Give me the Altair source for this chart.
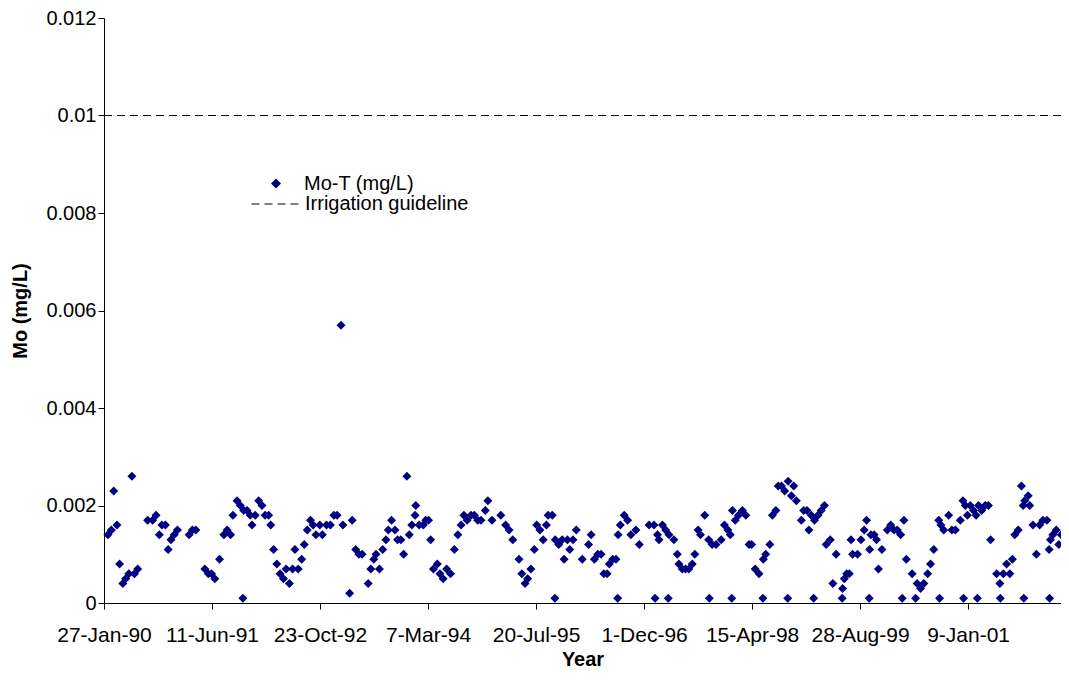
import altair as alt
import pandas as pd

# Sample dates as Excel serial day numbers (origin 1899-12-30)
sample_day = [
    32918, 32934, 32945, 32960, 32972, 32987, 33000, 33015, 33029, 33041, 33056,
    33102, 33125, 33141, 33156, 33168, 33184, 33197, 33210, 33225, 33240, 33294,
    33309, 33325, 33367, 33383, 33398, 33413, 33435, 33455, 33470, 33486, 33497,
    33516, 33531, 33543, 33547, 33562, 33577, 33585, 33600, 33616, 33631, 33646,
    33662, 33672, 33685, 33700, 33715, 33731, 33743, 33758, 33773, 33784, 33799,
    33815, 33827, 33841, 33856, 33868, 33881, 33899, 33911, 33930, 33948, 33964,
    33979, 33997, 34006, 34037, 34049, 34065, 34080, 34095, 34123, 34135,
    34149, 34159, 34175, 34190, 34205, 34216, 34231, 34247, 34259, 34274, 34287,
    34302, 34313, 34325, 34340, 34343, 34359, 34378, 34389, 34402, 34412, 34425,
    34443, 34455, 34470, 34486, 34504, 34522, 34538, 34553, 34566, 34581, 34599,
    34614, 34630, 34645, 34665, 34677, 34696, 34737, 34759,
    34775, 34792, 34821, 34834, 34849, 34861, 34876, 34892, 34903, 34918, 34933,
    34948, 34956, 34975, 34987, 34989, 35005, 35021, 35030, 35045, 35056, 35071,
    35086, 35114, 35143, 35155, 35170, 35186, 35201, 35214, 35229, 35239, 35255,
    35270, 35278, 35280, 35290, 35308, 35324, 35339, 35362, 35378,
    35423, 35446, 35451, 35462, 35469, 35485, 35500, 35512, 35515, 35538, 35554,
    35561, 35577, 35592, 35607, 35623, 35635, 35650, 35661, 35681, 35699, 35702,
    35715, 35733, 35757, 35772, 35788, 35799, 35806, 35809, 35822, 35837, 35855,
    35871, 35886, 35898, 35914, 35932, 35950, 35952, 35963, 35982,
    35994, 36010, 36021, 36036, 36051, 36065, 36067, 36082, 36093, 36105, 36128,
    36139, 36154, 36163, 36174, 36185, 36189, 36205, 36220, 36235, 36243, 36262,
    36274, 36289, 36317, 36319, 36327, 36338, 36350, 36358, 36365, 36388, 36404,
    36419, 36430, 36442, 36444, 36450, 36465, 36476, 36485, 36501, 36526, 36542,
    36557, 36572, 36588, 36595, 36603, 36614,
    36641, 36657, 36664, 36680, 36695, 36713, 36726, 36741, 36764, 36768, 36774,
    36787, 36810, 36825, 36841, 36864, 36876, 36879, 36887, 36897, 36910, 36925,
    36937, 36943, 36948, 36963, 36979, 36994, 37004, 37032, 37047, 37049, 37063,
    37078, 37093, 37105, 37116, 37132, 37147, 37155, 37158, 37162, 37178, 37185,
    37200, 37216, 37231, 37246, 37265, 37275, 37277, 37281, 37292, 37308, 37320,
    37331,
]

mo_t = [
    0.0014, 0.0015, 0.0023, 0.0016, 0.0008, 0.0004, 0.0005, 0.0006, 0.0026, 0.0006, 0.0007,
    0.0017, 0.0017, 0.0018, 0.0014, 0.0016, 0.0016, 0.0011, 0.0013, 0.0014, 0.0015, 0.0014,
    0.0015, 0.0015, 0.0007, 0.0006, 0.0006, 0.0005, 0.0009, 0.0014, 0.0015, 0.0014, 0.0018,
    0.0021, 0.0020, 0.0001, 0.0019, 0.0019, 0.0018, 0.0016, 0.0018, 0.0021, 0.0020, 0.0018,
    0.0018, 0.0016, 0.0011, 0.0008, 0.0006, 0.0005, 0.0007, 0.0004, 0.0007, 0.0011, 0.0007,
    0.0009, 0.0012, 0.0015, 0.0017, 0.0016, 0.0014, 0.0016, 0.0014, 0.0016, 0.0016, 0.0018,
    0.0018, 0.0057, 0.0016, 0.0002, 0.0017, 0.0011, 0.0010, 0.0010, 0.0004, 0.0007,
    0.0009, 0.0010, 0.0007, 0.0011, 0.0013, 0.0015, 0.0017, 0.0015, 0.0013, 0.0013, 0.0010,
    0.0026, 0.0014, 0.0016, 0.0018, 0.0020, 0.0016, 0.0016, 0.0017, 0.0017, 0.0013, 0.0007,
    0.0008, 0.0006, 0.0005, 0.0007, 0.0006, 0.0011, 0.0014, 0.0016, 0.0018, 0.0017, 0.0018,
    0.0018, 0.0017, 0.0017, 0.0019, 0.0021, 0.0017, 0.0018, 0.0016,
    0.0015, 0.0013, 0.0009, 0.0006, 0.0004, 0.0005, 0.0007, 0.0011, 0.0016, 0.0015, 0.0013,
    0.0016, 0.0018, 0.0018, 0.0001, 0.0013, 0.0012, 0.0013, 0.0009, 0.0013, 0.0011, 0.0013,
    0.0015, 0.0009, 0.0012, 0.0014, 0.0009, 0.0010, 0.0010, 0.0006, 0.0006, 0.0008, 0.0009,
    0.0009, 0.0001, 0.0014, 0.0016, 0.0018, 0.0017, 0.0014, 0.0015, 0.0012,
    0.0016, 0.0016, 0.0001, 0.0014, 0.0013, 0.0016, 0.0015, 0.0001, 0.0014, 0.0013, 0.0010,
    0.0008, 0.0007, 0.0007, 0.0007, 0.0008, 0.0010, 0.0015, 0.0014, 0.0018, 0.0013, 0.0001,
    0.0012, 0.0012, 0.0013, 0.0016, 0.0015, 0.0014, 0.0001, 0.0019, 0.0017, 0.0018, 0.0019,
    0.0018, 0.0012, 0.0012, 0.0007, 0.0006, 0.0001, 0.0009, 0.0010, 0.0012,
    0.0018, 0.0019, 0.0024, 0.0024, 0.0023, 0.0001, 0.0025, 0.0022, 0.0024, 0.0021, 0.0017,
    0.0019, 0.0019, 0.0015, 0.0018, 0.0001, 0.0017, 0.0018, 0.0019, 0.0020, 0.0012, 0.0013,
    0.0004, 0.0010, 0.0001, 0.0003, 0.0005, 0.0006, 0.0006, 0.0013, 0.0010, 0.0010, 0.0013,
    0.0015, 0.0017, 0.0001, 0.0011, 0.0014, 0.0014, 0.0013, 0.0007, 0.0011, 0.0015, 0.0016,
    0.0015, 0.0015, 0.0014, 0.0001, 0.0017, 0.0009,
    0.0006, 0.0001, 0.0004, 0.0003, 0.0004, 0.0006, 0.0008, 0.0011, 0.0017, 0.0001, 0.0016,
    0.0015, 0.0018, 0.0015, 0.0015, 0.0017, 0.0021, 0.0001, 0.0020, 0.0018, 0.0020, 0.0019,
    0.0018, 0.0001, 0.0020, 0.0019, 0.0020, 0.0020, 0.0013, 0.0006, 0.0004, 0.0001, 0.0006,
    0.0008, 0.0006, 0.0009, 0.0014, 0.0015, 0.0024, 0.0020, 0.0001, 0.0021, 0.0022, 0.0020,
    0.0016, 0.0010, 0.0016, 0.0017, 0.0017, 0.0011, 0.0001, 0.0013, 0.0014, 0.0015, 0.0012,
    0.0014,
]

series_names = ["Mo-T (mg/L)", "Irrigation guideline"]
guideline_value = [0.01]
y_ticks = [0, 0.002, 0.004, 0.006, 0.008, 0.01, 0.012]
x_start = "1990-01-27"
x_tick_step_days = 500
x_tick_count = 9
x_span_days = 4430

FONT = "Liberation Sans"

df = pd.DataFrame({
    "date": pd.to_datetime(sample_day, unit="D", origin="1899-12-30"),
    "mo": mo_t,
    "series": series_names[0],
})
guide_df = pd.DataFrame({"mo": guideline_value, "guide": series_names[1]})

start = pd.Timestamp(x_start)
end = start + pd.Timedelta(days=x_span_days)


def dt(ts):
    return alt.DateTime(year=ts.year, month=ts.month, date=ts.day)


x_tick_values = [dt(start + pd.Timedelta(days=x_tick_step_days * k)) for k in range(x_tick_count)]

x_enc = alt.X(
    "date:T",
    scale=alt.Scale(domain=[dt(start), dt(end)], nice=False),
    axis=alt.Axis(
        values=x_tick_values, format="%-d-%b-%y", title="Year",
        labelFlush=False, labelOverlap=False, labelPadding=15, labelFontSize=21,
        titleY=62, titleBaseline="alphabetic",
    ),
)
y_enc = alt.Y(
    "mo:Q",
    scale=alt.Scale(domain=[0, 0.012], nice=False, zero=True),
    axis=alt.Axis(
        values=y_ticks, format="~g", title="Mo (mg/L)",
        labelFlush=False, labelOverlap=False, labelPadding=2,
        titleX=-84, titleY=292.5, titleAngle=270, titleBaseline="middle",
        titleAlign="center",
    ),
)

points = alt.Chart(df).mark_point(shape="diamond", filled=True, size=81, opacity=1).encode(
    x=x_enc,
    y=y_enc,
    color=alt.Color(
        "series:N",
        scale=alt.Scale(domain=[series_names[0]], range=["#000080"]),
        legend=alt.Legend(
            orient="none", legendX=162, legendY=155.5, title=None,
            symbolType="diamond", symbolSize=100, symbolStrokeWidth=0,
            labelOffset=18, padding=0, labelFont=FONT, labelFontSize=20,
            labelColor="black", labelLimit=400,
        ),
    ),
)

rule = alt.Chart(guide_df).mark_rule(color="black", strokeWidth=1).encode(
    y=alt.Y("mo:Q"),
    strokeDash=alt.StrokeDash(
        "guide:N",
        scale=alt.Scale(domain=[series_names[1]], range=[[8, 5]]),
        legend=alt.Legend(
            orient="none", legendX=147, legendY=160, title=None,
            symbolType="stroke", symbolSize=2601, symbolStrokeWidth=1,
            symbolStrokeColor="black", labelOffset=2, padding=0,
            labelFont=FONT, labelFontSize=20, labelColor="black", labelLimit=400,
        ),
    ),
)

chart = alt.layer(points, rule).properties(
    width=957,
    height=585,
    padding={"left": 96, "top": 10, "right": 0, "bottom": 65},
    autosize=alt.AutoSizeParams(type="none"),
    background="white",
).configure_view(
    strokeWidth=0,
).configure_axis(
    grid=False,
    labelFont=FONT, labelFontSize=20, labelColor="black",
    titleFont=FONT, titleFontSize=20, titleFontWeight="bold", titleColor="black",
    domainColor="black", domainWidth=1, tickColor="black", tickSize=6, tickWidth=1,
)

chart.save("out.html", embed_options={"renderer": "svg", "actions": False})
